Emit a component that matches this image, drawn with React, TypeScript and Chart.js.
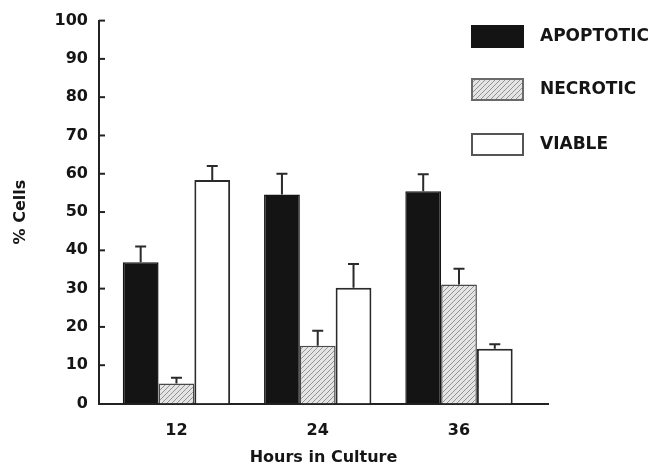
import { useEffect, useRef } from 'react';
import { Chart, registerables } from 'chart.js';

Chart.register(...registerables);

// ---- data ----
const hours = [12, 24, 36];
const seriesNames = ['APOPTOTIC', 'NECROTIC', 'VIABLE'];
const apoptotic = [36.9, 54.6, 55.4];
const apoptoticErr = [4.1, 5.4, 4.5];
const necrotic = [5.2, 15.1, 31.1];
const necroticErr = [1.5, 3.9, 4.1];
const viable = [58.4, 30.2, 14.3];
const viableErr = [3.6, 6.2, 1.2];
const yMin = 0;
const yMax = 100;
const yStep = 10;
const xTitle = 'Hours in Culture';
const yTitle = '% Cells';

const FONT = "'DejaVu Sans', 'Liberation Sans', sans-serif";
const INK = '#151515';

function makeHatch(): CanvasPattern | string {
  const c = document.createElement('canvas');
  c.width = 5;
  c.height = 5;
  const g = c.getContext('2d');
  if (!g) return '#cccccc';
  g.fillStyle = '#e4e4e4';
  g.fillRect(0, 0, 5, 5);
  g.strokeStyle = '#939393';
  g.lineWidth = 1;
  g.beginPath();
  g.moveTo(-1, 6);
  g.lineTo(6, -1);
  g.moveTo(-1, 1);
  g.lineTo(1, -1);
  g.moveTo(4, 6);
  g.lineTo(6, 4);
  g.stroke();
  const p = g.createPattern(c, 'repeat');
  return p || '#cccccc';
}

const errorBarPlugin = {
  id: 'errorBars',
  afterDatasetsDraw(chart: any) {
    const ctx = chart.ctx;
    const yScale = chart.scales.y;
    ctx.save();
    ctx.strokeStyle = '#2a2a2a';
    ctx.lineWidth = 2;
    chart.data.datasets.forEach((ds: any, i: number) => {
      const meta = chart.getDatasetMeta(i);
      meta.data.forEach((el: any, j: number) => {
        const v = ds.data[j].y;
        const e = ds.errors[j];
        const yTop = yScale.getPixelForValue(v + e);
        ctx.beginPath();
        ctx.moveTo(el.x, el.y);
        ctx.lineTo(el.x, yTop);
        ctx.moveTo(el.x - 5.5, yTop);
        ctx.lineTo(el.x + 5.5, yTop);
        ctx.stroke();
      });
    });
    ctx.restore();
  },
};

const inwardTicksPlugin = {
  id: 'inwardTicks',
  afterDraw(chart: any) {
    const ctx = chart.ctx;
    const y = chart.scales.y;
    const left = chart.chartArea.left;
    ctx.save();
    ctx.strokeStyle = '#222';
    ctx.lineWidth = 2;
    y.ticks.forEach((t: any) => {
      const py = y.getPixelForValue(t.value);
      if (t.value === yMin) return;
      ctx.beginPath();
      ctx.moveTo(left, py);
      ctx.lineTo(left + 6, py);
      ctx.stroke();
    });
    ctx.restore();
  },
};

const legendPlugin = {
  id: 'boxLegend',
  afterDraw(chart: any) {
    const ctx = chart.ctx;
    const bx = 472;
    const bw = 51;
    const bh = 21;
    const tops = [26, 79, 134];
    ctx.save();
    chart.data.datasets.forEach((ds: any, i: number) => {
      const top = tops[i];
      ctx.fillStyle = ds.backgroundColor;
      ctx.fillRect(bx, top, bw, bh);
      ctx.strokeStyle = ds.legendBorder;
      ctx.lineWidth = 2;
      ctx.strokeRect(bx, top, bw, bh);
      ctx.fillStyle = INK;
      ctx.font = `bold 17px ${FONT}`;
      ctx.textBaseline = 'middle';
      ctx.textAlign = 'left';
      ctx.fillText(ds.label, 540, top + bh / 2 + 0.5);
    });
    ctx.restore();
  },
};

export default function App() {
  const ref = useRef<HTMLCanvasElement | null>(null);

  useEffect(() => {
    if (!ref.current) return;
    const hatch = makeHatch();
    const mk = (vals: number[]) => vals.map((v, i) => ({ x: hours[i], y: v }));
    const chart = new Chart(ref.current, {
      type: 'bar',
      data: {
        datasets: [
          {
            label: seriesNames[0],
            data: mk(apoptotic),
            errors: apoptoticErr,
            backgroundColor: '#141414',
            borderColor: '#141414',
            legendBorder: '#141414',
            borderWidth: 1.5,
          } as any,
          {
            label: seriesNames[1],
            data: mk(necrotic),
            errors: necroticErr,
            backgroundColor: hatch,
            borderColor: '#4a4a4a',
            legendBorder: '#6a6a6a',
            borderWidth: 1.5,
          } as any,
          {
            label: seriesNames[2],
            data: mk(viable),
            errors: viableErr,
            backgroundColor: '#ffffff',
            borderColor: '#2a2a2a',
            legendBorder: '#555555',
            borderWidth: 2,
          } as any,
        ],
      },
      options: {
        responsive: false,
        animation: false,
        devicePixelRatio: 1,
        layout: { padding: { left: 0, top: 17, right: 104, bottom: 0 } },
        plugins: {
          legend: { display: false },
          tooltip: { enabled: false },
        },
        datasets: {
          bar: { categoryPercentage: 0.76, barPercentage: 1, borderSkipped: 'start' },
        },
        scales: {
          x: {
            type: 'linear',
            min: 5.42,
            max: 43.56,
            offset: false,
            grid: { display: false, drawTicks: false, offset: false },
            border: { display: true, color: '#222', width: 2 },
            afterBuildTicks(scale: any) {
              scale.ticks = hours.map((v) => ({ value: v }));
            },
            afterFit(scale: any) {
              scale.height = 62.5;
            },
            ticks: {
              color: INK,
              font: { family: FONT, size: 16, weight: 'bold' },
              padding: 18,
              maxRotation: 0,
              autoSkip: false,
              callback: (v: any) => String(v),
            },
            title: {
              display: true,
              text: xTitle,
              color: INK,
              font: { family: FONT, size: 16, weight: 'bold' },
              padding: { top: 0, bottom: -1 },
            },
          },
          y: {
            type: 'linear',
            min: yMin,
            max: yMax,
            grid: { display: false, drawTicks: false },
            border: { display: true, color: '#222', width: 2 },
            afterFit(scale: any) {
              scale.width = 99;
            },
            ticks: {
              stepSize: yStep,
              color: INK,
              font: { family: FONT, size: 16, weight: 'bold' },
              padding: 11,
            },
            title: {
              display: true,
              text: yTitle,
              color: INK,
              font: { family: FONT, size: 16, weight: 'bold' },
              padding: { top: 11, bottom: 0 },
            },
          },
        },
      } as any,
      plugins: [errorBarPlugin, inwardTicksPlugin, legendPlugin],
    });
    return () => chart.destroy();
  }, []);

  return (
    <div style={{ position: 'fixed', left: 0, top: 0, width: 652, height: 466, background: '#fff' }}>
      <canvas ref={ref} width={652} height={466} style={{ display: 'block' }} />
    </div>
  );
}
